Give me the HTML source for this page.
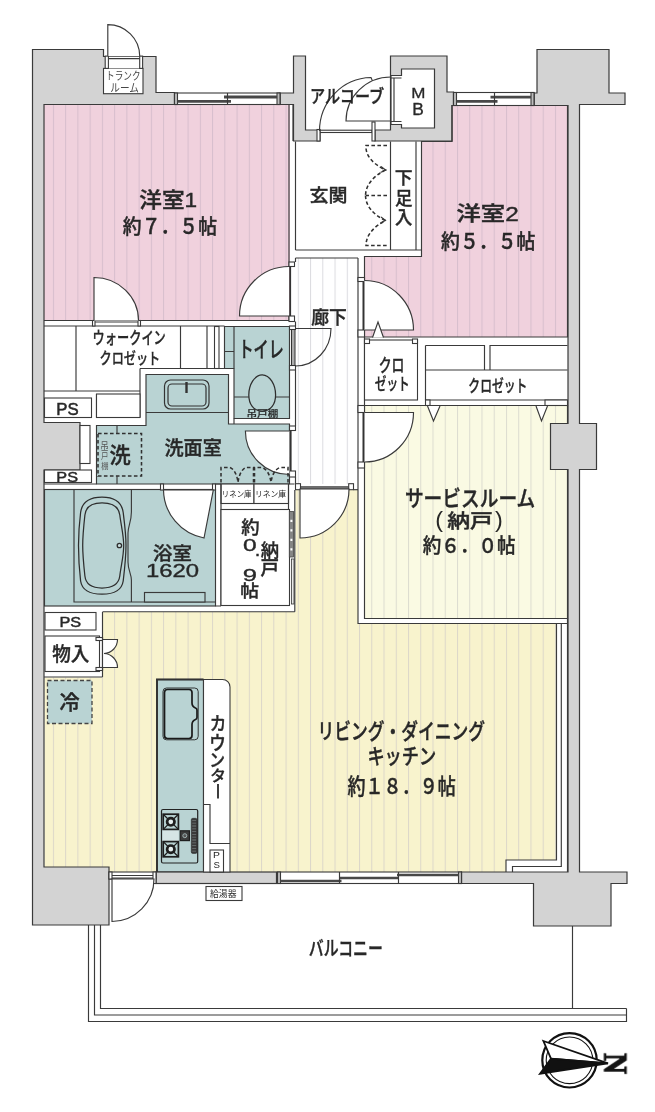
<!DOCTYPE html>
<html lang="ja"><head><meta charset="utf-8"><title>間取り図</title>
<style>
html,body{margin:0;padding:0;background:#fff}
svg{display:block}
text{font-family:"Liberation Sans","Noto Sans CJK JP",sans-serif;fill:#262626;font-weight:500}
.w{fill:#d3d3d3;stroke:#3a3a3a;stroke-width:1.2}
.l{fill:none;stroke:#3a3a3a;stroke-width:1.15}
.wl{fill:#fff;stroke:#3a3a3a;stroke-width:1.1}
.tl{fill:#b9d3d3;stroke:#3a3a3a;stroke-width:1.15}
.d{fill:#fff;stroke:#3a3a3a;stroke-width:1.15}
.ds{fill:none;stroke:#303030;stroke-width:1.55;stroke-dasharray:3.6 2.4}
</style></head>
<body>
<svg width="655" height="1112" viewBox="0 0 655 1112">
<defs>
<pattern id="pk" patternUnits="userSpaceOnUse" x="52.9" y="0" width="12.245" height="20"><rect width="12.245" height="20" fill="#f0d1dd"/><rect width="1" height="20" fill="#d7becd"/></pattern>
<pattern id="pk2" patternUnits="userSpaceOnUse" x="52.9" y="0" width="12.245" height="20"><rect width="12.245" height="20" fill="#f0d1dd"/><rect width="1" height="20" fill="#d7becd"/></pattern>
<pattern id="yl" patternUnits="userSpaceOnUse" x="52.9" y="0" width="12.245" height="20"><rect width="12.245" height="20" fill="#f8f3cd"/><rect width="1" height="20" fill="#dcd7c9"/></pattern>
<pattern id="sv" patternUnits="userSpaceOnUse" x="52.9" y="0" width="12.245" height="20"><rect width="12.245" height="20" fill="#fafae3"/><rect width="1" height="20" fill="#dcdcd0"/></pattern>
<pattern id="co" patternUnits="userSpaceOnUse" x="52.9" y="0" width="12.245" height="20"><rect width="12.245" height="20" fill="#ffffff"/><rect width="1" height="20" fill="#dcdce0"/></pattern>
</defs>
<rect width="655" height="1112" fill="#fff"/>
<!-- FILLS -->
<g id="fills">
<rect x="44" y="104.5" width="246" height="215.5" fill="url(#pk)"/>
<polygon points="452,105.5 567.5,105.5 567.5,337 364.5,337 364.5,257 421.5,257 421.5,141 452,141" fill="url(#pk2)"/>
<rect x="296.5" y="258" width="61" height="226" fill="url(#co)"/>
<polygon points="295.5,489.5 358,489.5 358,623.5 556.5,623.5 556.5,860 506,860 506,872 109,872 109,867 44.5,867 44.5,677.5 102.5,677.5 102.5,612 295.5,612" fill="url(#yl)"/>
<rect x="364.5" y="405.5" width="203" height="213" fill="url(#sv)"/>

<!-- teal rooms -->
<polygon class="tl" points="224.5,326.5 289.5,326.5 289.5,418.5 234,418.5 234,368.5 224.5,368.5"/>
<polygon class="tl" points="146,374.5 228.5,374.5 228.5,424 289.5,424 289.5,484 96.5,484 96.5,425.5 146,425.5"/>
<rect class="tl" x="44.5" y="489.5" width="171" height="116.5"/>
<rect class="tl" x="157" y="679.5" width="46.5" height="192.5"/>
</g>
<!-- GRAYWALLS -->
<g id="walls">
<polygon class="w" points="32.5,49.5 103.5,49.5 103.5,56.5 156,56.5 156,92.5 174.5,92.5 174.5,104.5 44,104.5 44,422.5 80,422.5 80,470 44,470 44,867 109,867 109,925 32.5,925"/>
<polygon class="w" points="280,93 293.5,93 293.5,56 305.5,56 305.5,130 320,130 320,141 293.5,141 293.5,104.5 280,104.5"/>
<path class="w" fill-rule="evenodd" d="M390.5,56H447V92H453.5V105.5H452V141H375V130H390.5Z M401.5,69H434.5V128H401.5V124.5H391V75.5H401.5Z"/>
<polygon class="w" points="537,49.5 609,49.5 609,93 625,93 625,104.5 579.5,104.5 579.5,423.5 596.5,423.5 596.5,469.5 579.5,469.5 579.5,872 627,872 627,883.5 611,883.5 611,926 533.5,926 533.5,883.5 461.5,883.5 461.5,872 568,872 568,469.5 550.5,469.5 550.5,423.5 568,423.5 568,105.5 534,105.5 534,93 537,93"/>
<rect class="w" x="156" y="872" width="120.5" height="11.5"/>
</g>
<!-- PARTITIONS -->
<g id="parts">
<!-- room outlines -->
<path class="l" d="M44,104.5H289V320.5H44"/>
<polygon class="l" points="452,105.5 567.5,105.5 567.5,337 364.5,337 364.5,256.5 421.5,256.5 421.5,141.5 452,141.5"/>
<!-- trunk room -->
<rect class="wl" x="103.500" y="68.400" width="39.500" height="25.300"/>
<rect x="108.400" y="56" width="31.300" height="12.400" fill="#fff"/>
<rect class="wl" x="105.200" y="56.100" width="3.200" height="12.300"/><rect class="wl" x="139.700" y="56.100" width="2.900" height="12.300"/>
<path class="l" d="M108.400,56.100H139.700 M108.400,58.600H139.700"/>
<!-- genkan -->
<path class="l" d="M293,141V104.5 M295.5,141.5V250 M390.5,141.5V250 M416,141.5V250 M295.5,250H421.5 M295.5,258H358 M295.5,258V262 M358,258V484 M364.5,337V405.5"/>
<rect class="wl" x="320" y="130.200" width="52" height="2.300"/>
<rect class="wl" x="317" y="129.5" width="3" height="11.500"/><rect class="wl" x="372" y="122" width="3" height="19"/><path class="l" d="M394,78V121.500 M391,78H401.500 M391,121.500H401.500"/>
<!-- room1 door frame -->
<rect class="wl" x="289" y="262" width="5.5" height="4.5"/><rect class="wl" x="289" y="316" width="5.5" height="5.5"/>
<path d="M290.300,266.5V316" stroke="#333" stroke-width="1.600" fill="none"/><path class="l" d="M295.5,321.5V326"/>
<!-- room2 door frame -->
<rect class="wl" x="358" y="277.5" width="6.5" height="4"/><rect class="wl" x="358" y="330" width="6.5" height="7"/>
<path d="M363.300,281.5V330" stroke="#333" stroke-width="1.600" fill="none"/>
<!-- WIC -->
<path class="l" d="M44,326H224.5 M76,326V391 M180.5,326V368.5 M207,326V368.5 M44,391H140 M180.5,368.5H228.5 M140,368.5H180.5 M140,368.5V417.5 M96.5,394V417.5 M234,418.5V424"/>
<rect class="wl" x="214.5" y="326.5" width="4.5" height="42"/>
<rect class="wl" x="92.5" y="320.5" width="2.5" height="5.5"/><rect class="wl" x="138" y="320.5" width="2.5" height="5.5"/>
<path class="l" d="M95,322H138"/>
<rect class="wl" x="44.5" y="398" width="47" height="19.5"/>
<rect class="wl" x="96.5" y="394" width="43.5" height="23.5"/>
<rect class="wl" x="80" y="425.500" width="10" height="38"/>
<rect class="wl" x="44.5" y="470" width="47" height="12.5"/>
<!-- toilet shelf -->
<path class="l" d="M234,326.500V368.5 M224.5,351.5H234 M234,397H249 M275.500,397H289.500"/>
<!-- toilet door frame -->
<rect class="wl" x="289.5" y="326" width="6" height="3.5"/><rect class="wl" x="289.5" y="365.500" width="6" height="4.5"/>
<rect x="291.500" y="329.500" width="3.5" height="36" fill="#ababab" stroke="#333"/>
<path class="l" d="M295.500,370V426"/>
<!-- washroom door frame -->
<rect class="wl" x="289.5" y="426" width="6" height="4.5"/><rect class="wl" x="289.5" y="471" width="6" height="6"/>
<path d="M290.800,430.500V471" stroke="#333" stroke-width="1.600" fill="none"/><path class="l" d="M295.5,477V484"/>
<!-- wall washroom/bath -->
<path class="l" d="M44,484H96.500 M44,489.500H160.500 M289.500,484H294.500"/>
<rect class="wl" x="160.500" y="484" width="3" height="6"/><rect class="wl" x="212.500" y="484" width="3" height="6"/>
<!-- linen -->
<rect class="wl" x="221" y="484" width="33" height="19.500"/><rect class="wl" x="254" y="484" width="34.500" height="19.500"/>
<path class="l" d="M215.500,484H221 M221,484V606 M215.500,606H221 M288.500,484V509.500 M294.800,490V611.700 M102.500,611.700H294.800"/>
<!-- nando -->
<rect class="wl" x="221" y="509.500" width="68.500" height="96"/>
<rect x="289.300" y="511.500" width="4.200" height="45.500" fill="#858585" stroke="#444" stroke-width=".8"/>
<path d="M291.400,519.800V552" stroke="#fff" stroke-width="2" stroke-dasharray="2.300 7.200" fill="none"/>
<rect x="291.500" y="559" width="2.500" height="45" fill="#e8e8e8" stroke="#333" stroke-width=".8"/>
<!-- LD door frame -->
<rect x="300" y="486" width="49" height="3.500" fill="#6e6e6e"/><rect class="wl" x="295.500" y="483.700" width="5" height="6"/><rect class="wl" x="348.700" y="483.700" width="4.800" height="6"/><path class="l" d="M353.500,489.700H358"/>
<!-- service room walls -->
<path class="l" d="M358,484V623.500H567.500 M556.500,623.500V860H506V872 M561.300,623.500V866.500H512.500V872 M567.500,618.500V872"/>
<path class="l" d="M567.500,423.500V405.500H364.500V618.500H567.500V469.500"/>
<!-- small closet -->
<rect class="wl" x="364.500" y="340" width="53" height="60"/><rect class="wl" x="364.500" y="339" width="5" height="4.500"/><rect class="wl" x="412.500" y="339" width="5" height="4.500"/>
<!-- big closet -->
<path class="l" d="M425.500,345.500V400 M425.500,345.500H484.500V370 M490,370V345.500H567.500 M425.500,370H567.500 M425.500,400H567.500 M364.500,405.500H426"/>
<rect class="wl" x="425.500" y="400" width="4.500" height="5.500"/><rect class="wl" x="545" y="400" width="22.500" height="5.500"/>
<!-- service door frame -->
<rect class="wl" x="358" y="405.500" width="6.500" height="7"/><rect class="wl" x="358" y="462" width="6.500" height="6"/>
<path d="M363.300,412.500V462" stroke="#333" stroke-width="1.600" fill="none"/>
<!-- PS3 / monoire -->
<rect class="wl" x="45" y="612.500" width="51" height="17.500"/>
<rect class="wl" x="45" y="636" width="54.500" height="35.500"/>
<path class="l" d="M102.500,612V677 M44,677H102.500"/>
<rect class="wl" x="96" y="637.500" width="6.500" height="3"/><rect class="wl" x="96" y="667.500" width="6.500" height="3"/>
<!-- kitchen counter -->
<path class="wl" d="M203.500,679.500H222.500A7.500,7.500 0 0 1 230,687V872H203.500Z"/>
<path class="l" d="M203.500,804.500H210V843.500H230"/>
<rect class="wl" x="210" y="850" width="13.500" height="22"/>
<path d="M157,872V679.500H203.500" fill="none" stroke="#333" stroke-width="2"/>
<!-- kyutoki -->
<rect class="wl" x="206" y="886.500" width="36" height="14"/>
<!-- balcony -->
<path class="l" d="M88.500,925V1021.500H626.500V1008.500 M94.500,925V1015H626.500 M100.500,925V1008.500H626.500 M572.500,926V1008.500"/>
<!-- windows -->
<g id="win1"><rect class="wl" x="174.500" y="93" width="105.500" height="11.500"/><rect class="wl" style="fill:#bdbdbd" x="174.500" y="93" width="3" height="11.500"/><rect class="wl" style="fill:#bdbdbd" x="277" y="93" width="3" height="11.500"/>
<path d="M177.500,101.300H231 M224,97H277" stroke="#484848" stroke-width="2.800" fill="none"/><path class="l" d="M227.500,93V104.500"/></g>
<g id="win2"><rect class="wl" x="453.500" y="92.500" width="80.500" height="13"/><rect class="wl" style="fill:#bdbdbd" x="453.500" y="92.500" width="3" height="13"/><rect class="wl" style="fill:#bdbdbd" x="531" y="92.500" width="3" height="13"/>
<path d="M456.500,101.300H497.500 M490.500,97.100H531" stroke="#484848" stroke-width="2.800" fill="none"/><path class="l" d="M494.500,92.500V105.500"/></g>
<g id="win3"><rect class="wl" x="277.500" y="872" width="184" height="11.500"/><rect class="wl" style="fill:#bdbdbd" x="277.500" y="872" width="3" height="11.500"/><rect class="wl" style="fill:#bdbdbd" x="458.500" y="872" width="3" height="11.500"/>
<path d="M280.500,881H341.500 M339,878H399 M397,875H458.500" stroke="#484848" stroke-width="2.400" fill="none"/><path class="l" d="M339.500,872V883.500 M398.500,872V883.500"/></g>
<!-- balcony door frame -->
<rect class="wl" x="109" y="872" width="47" height="7"/><path class="l" d="M112,875.500H153 M112,878H153"/>
<rect class="wl" x="109" y="872" width="3" height="7"/><rect class="wl" x="153" y="872" width="3" height="11.500"/>
</g>
<!-- FIXTURES -->
<g id="fix">
<!-- washbasin -->
<path class="l" d="M146,412.500H228.500"/>
<rect x="164.500" y="380" width="44.500" height="29" rx="6" fill="#b9d3d3" stroke="#333" stroke-width="1.200"/>
<rect x="168" y="384" width="38" height="22" rx="4" fill="#b9d3d3" stroke="#333" stroke-width="1.200"/>
<path d="M186.500,382V393" stroke="#333" stroke-width="2.400" fill="none"/>
<!-- toilet -->
<path d="M262.200,374.900C270,374.900 275.600,385 275.600,395C275.600,404 271,411 262.200,411C253.400,411 248.800,404 248.800,395C248.800,385 254.400,374.900 262.200,374.900Z" fill="#b9d3d3" stroke="#2e2e2e" stroke-width="1.250"/>
<!-- washer -->
<rect class="ds" x="98" y="433.500" width="43.500" height="42.500"/>
<path class="l" d="M117,425.500V433.500 M117,476V484"/>
<!-- bath -->
<path class="l" d="M74,489.500V602H215.500"/>
<path class="l" d="M131.400,489.500V512C131.400,522 128,526 128,533V562C128,570 131.400,574 131.400,580V602"/>
<path d="M102,497.100C112,497.100 121.500,500 123.200,512.500C124.500,523 126,534 126,545.500C126,557 124.500,570 123.200,581C121.500,592 112,594.200 102,594.200C92,594.200 82.300,592 80.600,581C79.300,570 78.500,557 78.500,545.500C78.500,534 79.300,523 80.600,512.500C82.300,500 92,497.100 102,497.100Z" fill="#b9d3d3" stroke="#2e2e2e" stroke-width="1.250"/>
<path d="M102,502.900C110,502.900 118.500,505 119.800,515C121,525 123.700,535 123.700,545.500C123.700,556 121,566 119.800,576C118.500,586 110,588 102,588C94,588 86,586 84.900,576C83.800,566 82.700,556 82.700,545.500C82.700,535 83.800,525 84.900,515C86,505 94,502.900 102,502.900Z" fill="#b9d3d3" stroke="#2e2e2e" stroke-width="1.250"/>
<circle cx="119.400" cy="545.500" r="2.200" fill="#c9dede" stroke="#2e2e2e" stroke-width="1.300"/>
<rect class="tl" x="144.500" y="592.500" width="60.500" height="9.500"/>
<!-- fridge -->
<rect x="47.500" y="680.500" width="44.500" height="43" fill="#b9d3d3" stroke="#444" stroke-width="1.300" stroke-dasharray="4 2.500"/>
<!-- kitchen sink -->
<rect x="163" y="688" width="35.200" height="51.800" rx="3.500" fill="#b9d3d3" stroke="#222" stroke-width=".9"/>
<path d="M167.500,689.500H189Q192,689.500 192,692.500V703Q192,706.500 195.500,708Q197,708.500 197,710V717.500Q197,719 195.500,719.500Q192,721 192,724.500V735.500Q192,738.500 189,738.500H167.500Q164.500,738.500 164.500,735.500V692.500Q164.500,689.500 167.500,689.500Z" fill="#b9d3d3" stroke="#1a1a1a" stroke-width="1.700"/>
<!-- stove -->
<rect x="161.500" y="809.500" width="36.200" height="53.500" rx="1.500" fill="#b9d3d3" stroke="#222" stroke-width="1.200"/>
<rect x="162.600" y="829.800" width="16.100" height="11.400" fill="#d5e4e4"/>
<g fill="none" stroke="#1e1e1e">
<rect x="163.200" y="814.200" width="15.200" height="15.200" stroke-width="1.700"/>
<path d="M163.200,814.200L178.400,829.400 M178.400,814.200L163.200,829.400" stroke-width="1.300"/>
<circle cx="170.800" cy="821.800" r="3.700" stroke-width="2.700" fill="#e4eeee"/>
<rect x="163.200" y="841.600" width="15.200" height="15.200" stroke-width="1.700"/>
<path d="M163.200,841.600L178.400,856.800 M178.400,841.600L163.200,856.800" stroke-width="1.300"/>
<circle cx="170.800" cy="849.200" r="3.700" stroke-width="2.700" fill="#e4eeee"/>
<rect x="180.200" y="830.800" width="9.200" height="9.800" stroke-width="1.200" fill="#3c3c3c"/>
<circle cx="184.800" cy="835.700" r="2" stroke="#9db0b0" stroke-width="1" fill="#555"/>
</g>
<rect x="191.300" y="818.300" width="5.700" height="35.100" rx="1.500" fill="#3a3a3a" stroke="#2a2a2a" stroke-width=".6"/>
<path d="M194.200,820V852.500" stroke="#707878" stroke-width="4" stroke-dasharray=".8 2" fill="none"/>
</g>
<!-- DOORS -->
<g id="doors">
<!-- trunk door -->
<path class="d" d="M107.800,56.100V24.600A31.900,31.500 0 0 1 139.700,56.100"/>
<!-- entry door arc + MB door -->
<path class="l" d="M319.500,131A52.500,53.500 0 0 1 371,77.500l1.500,3.500"/>
<path class="l" d="M391,121H346A45,44 0 0 1 391,77"/>
<!-- room1 door -->
<path class="d" d="M289,316H239.500A49.500,49.500 0 0 1 289,266.500"/>
<!-- room2 door -->
<path class="d" d="M364.500,330H413.500A49,49.500 0 0 0 364.500,280.500"/>
<!-- WIC door -->
<path class="d" d="M94,320.500V277.500A44.500,43 0 0 1 138.500,320.500"/>
<!-- toilet door -->
<path class="l" d="M295.500,328.500H331A35.500,37.500 0 0 1 295.500,366"/>
<!-- washroom door -->
<path class="d" d="M289.400,431H245.400A44,43.500 0 0 0 289.400,474.500"/>
<!-- service door -->
<path class="d" d="M364.500,412.500H413.500A49,49.500 0 0 1 364.500,462" />
<!-- LD door -->
<path class="d" d="M300,489V538A49,49 0 0 0 349,489Z"/>
<!-- bath door -->
<path class="d" d="M163.500,490A49.500,49.500 0 0 0 204,538L213.300,490Z"/>
<!-- balcony door -->
<path class="d" d="M112,879V921.500A42.500,42.500 0 0 0 154,879Z"/>
<!-- closet triangles -->
<path class="d" d="M372.500,337.500L378,322L383.500,337.500"/>
<path class="d" d="M427.500,406L433.500,421L440,406"/>
<path class="d" d="M536,406L541.500,421L547.500,406"/>
<!-- monoire folding -->
<path class="d" d="M102.500,639.500H117.500A14,14 0 0 1 104,653.500A14,14 0 0 1 117.500,667.500H102.500"/>
<path class="l" d="M102.500,637.500V670.500"/>
<!-- shoe closet dashed bifold -->
<path class="ds" d="M387,145.500H366 Q365,160 385.500,170 Q366,180 365.500,195.500 M387,195.500H366 M365.500,195.500Q366,211 385.500,220.500 Q366,231 366,245.500H387"/>
<path class="l" d="M381,166.500L385.500,170L380.500,172.500 M381,217L385.500,220.500L380.500,223"/>
<!-- linen dashed -->
<path class="ds" d="M221,482.500V467.500H230Q236,470 238,482 M253.500,482.500V467.500H246Q240,470 238,482 M254.500,482.500V467.500H262Q269,470 271,482 M288,482.500V467.500H280Q273,470 271,482" stroke-dasharray="3 2"/>
<!-- compass -->
<circle cx="569.500" cy="1060.300" r="27.200" fill="#fff" stroke="#111" stroke-width="2.200"/>
<circle cx="569.500" cy="1060.300" r="23.300" fill="none" stroke="#111" stroke-width="1.100"/>
<path d="M543.400,1041L608,1063.300L551,1058.600Z" fill="#fff" stroke="#111" stroke-width="1.800" stroke-linejoin="miter"/>
<path d="M551,1058.600L608,1063.300L540,1073.700Z" fill="#111" stroke="#111" stroke-width="1.800"/>
</g>
<!-- TEXT -->
<g id="txt" opacity="0.99">
<text transform="translate(139.29,207.01) scale(2.263,2.096)" font-size="10" style="font-weight:500;stroke:#262626;stroke-width:.2px" xml:space="preserve">洋室1</text>
<text transform="translate(122.82,234.32) scale(1.885,2.084)" font-size="10" style="font-weight:500;stroke:#262626;stroke-width:.2px" xml:space="preserve">約７．５帖</text>
<text transform="translate(456.53,220.92) scale(2.433,2.085)" font-size="10" style="font-weight:500;stroke:#262626;stroke-width:.2px" xml:space="preserve">洋室2</text>
<text transform="translate(441.02,249.32) scale(1.891,2.084)" font-size="10" style="font-weight:500;stroke:#262626;stroke-width:.2px" xml:space="preserve">約５．５帖</text>
<text transform="translate(309.56,201.56) scale(1.898,1.819)" font-size="10" style="font-weight:500;stroke:#262626;stroke-width:.2px" xml:space="preserve">玄関</text>
<text transform="translate(394.81,184.35) scale(1.789,1.724)" font-size="10" style="font-weight:500;stroke:#262626;stroke-width:.2px" xml:space="preserve">下</text>
<text transform="translate(395.00,204.68) scale(1.750,1.798)" font-size="10" style="font-weight:500;stroke:#262626;stroke-width:.2px" xml:space="preserve">足</text>
<text transform="translate(395.01,223.90) scale(1.731,1.874)" font-size="10" style="font-weight:500;stroke:#262626;stroke-width:.2px" xml:space="preserve">入</text>
<text transform="translate(309.98,102.97) scale(1.513,1.859)" font-size="10" style="font-weight:500;stroke:#262626;stroke-width:.2px" xml:space="preserve">アルコーブ</text>
<text transform="translate(411.24,98.10) scale(1.701,1.551)" font-size="10" style="font-weight:400;stroke:#262626;stroke-width:.2px" xml:space="preserve">M</text>
<text transform="translate(412.31,115.20) scale(1.736,1.638)" font-size="10" style="font-weight:400;stroke:#262626;stroke-width:.2px" xml:space="preserve">B</text>
<text transform="translate(106.06,79.64) scale(0.862,1.116)" font-size="10" style="font-weight:400;fill:#444" xml:space="preserve">トランク</text>
<text transform="translate(110.32,92.16) scale(0.965,1.137)" font-size="10" style="font-weight:400;fill:#444" xml:space="preserve">ルーム</text>
<text transform="translate(311.27,323.61) scale(1.781,1.872)" font-size="10" style="font-weight:500;stroke:#262626;stroke-width:.2px" xml:space="preserve">廊下</text>
<text transform="translate(92.61,344.12) scale(1.221,1.722)" font-size="10" style="font-weight:500;stroke:#262626;stroke-width:.2px" xml:space="preserve">ウォークイン</text>
<text transform="translate(99.51,363.56) scale(1.216,1.596)" font-size="10" style="font-weight:500;stroke:#262626;stroke-width:.2px" xml:space="preserve">クロゼット</text>
<text transform="translate(56.26,414.53) scale(1.678,1.732)" font-size="10" style="font-weight:400;stroke:#262626;stroke-width:.3px" xml:space="preserve">PS</text>
<text transform="translate(238.47,356.72) scale(1.510,2.205)" font-size="10" style="font-weight:500;stroke:#262626;stroke-width:.2px" xml:space="preserve">トイレ</text>
<text transform="translate(246.54,416.69) scale(1.057,0.904)" font-size="10" style="font-weight:500;stroke:#262626;stroke-width:.2px" xml:space="preserve">吊戸棚</text>
<text transform="translate(164.44,455.36) scale(1.911,1.936)" font-size="10" style="font-weight:500;stroke:#262626;stroke-width:.2px" xml:space="preserve">洗面室</text>
<text transform="translate(109.45,463.49) scale(2.117,2.140)" font-size="10" style="font-weight:500;stroke:#262626;stroke-width:.2px" xml:space="preserve">洗</text>
<text transform="translate(100.37,449.14) scale(0.857,0.955)" font-size="10" style="font-weight:400;fill:#555" xml:space="preserve">吊</text>
<text transform="translate(101.11,459.21) scale(0.733,0.988)" font-size="10" style="font-weight:400;fill:#555" xml:space="preserve">戸</text>
<text transform="translate(101.18,468.73) scale(0.733,0.851)" font-size="10" style="font-weight:400;fill:#555" xml:space="preserve">棚</text>
<text transform="translate(56.30,482.35) scale(1.628,1.479)" font-size="10" style="font-weight:400;stroke:#262626;stroke-width:.3px" xml:space="preserve">PS</text>
<text transform="translate(152.92,560.13) scale(1.948,1.851)" font-size="10" style="font-weight:500;stroke:#262626;stroke-width:.2px" xml:space="preserve">浴室</text>
<text transform="translate(145.99,577.02) scale(2.390,1.761)" font-size="10" style="font-weight:500;stroke:#262626;stroke-width:.2px" xml:space="preserve">1620</text>
<text transform="translate(221.86,497.09) scale(0.743,0.787)" font-size="10" style="font-weight:400" xml:space="preserve">リネン庫</text>
<text transform="translate(254.88,497.09) scale(0.781,0.787)" font-size="10" style="font-weight:400" xml:space="preserve">リネン庫</text>
<text transform="translate(241.13,533.66) scale(1.837,1.842)" font-size="10" style="font-weight:500;stroke:#262626;stroke-width:.2px" xml:space="preserve">約</text>
<text transform="translate(243.02,550.84) scale(2.458,1.648)" font-size="10" style="font-weight:500;stroke:#262626;stroke-width:.2px" xml:space="preserve">0</text>
<text transform="translate(254.80,555.50) scale(2.000,1.818)" font-size="10" style="font-weight:500;stroke:#262626;stroke-width:.2px" xml:space="preserve">.</text>
<text transform="translate(242.72,580.73) scale(2.565,1.718)" font-size="10" style="font-weight:500;stroke:#262626;stroke-width:.2px" xml:space="preserve">9</text>
<text transform="translate(240.37,597.44) scale(1.878,1.734)" font-size="10" style="font-weight:500;stroke:#262626;stroke-width:.2px" xml:space="preserve">帖</text>
<text transform="translate(260.63,557.19) scale(1.837,1.787)" font-size="10" style="font-weight:500;stroke:#262626;stroke-width:.2px" xml:space="preserve">納</text>
<text transform="translate(260.44,575.26) scale(1.857,1.932)" font-size="10" style="font-weight:500;stroke:#262626;stroke-width:.2px" xml:space="preserve">戸</text>
<text transform="translate(404.88,505.59) scale(1.873,2.178)" font-size="10" style="font-weight:500;stroke:#262626;stroke-width:.2px" xml:space="preserve">サービスルーム</text>
<text transform="translate(435.19,526.65) scale(2.346,2.213)" font-size="10" style="font-weight:400" xml:space="preserve">(</text>
<text transform="translate(447.14,528.26) scale(2.292,1.936)" font-size="10" style="font-weight:500;stroke:#262626;stroke-width:.2px" xml:space="preserve">納戸</text>
<text transform="translate(495.07,526.65) scale(2.346,2.213)" font-size="10" style="font-weight:400" xml:space="preserve">)</text>
<text transform="translate(422.83,553.15) scale(1.854,2.053)" font-size="10" style="font-weight:500;stroke:#262626;stroke-width:.2px" xml:space="preserve">約６．０帖</text>
<text transform="translate(59.40,626.75) scale(1.628,1.535)" font-size="10" style="font-weight:400;stroke:#262626;stroke-width:.3px" xml:space="preserve">PS</text>
<text transform="translate(52.14,660.73) scale(1.861,1.968)" font-size="10" style="font-weight:500;stroke:#262626;stroke-width:.2px" xml:space="preserve">物入</text>
<text transform="translate(59.39,709.66) scale(2.021,2.043)" font-size="10" style="font-weight:500;stroke:#262626;stroke-width:.2px" xml:space="preserve">冷</text>
<text transform="translate(209.74,729.94) scale(1.658,1.867)" font-size="10" style="font-weight:500;stroke:#262626;stroke-width:.2px" xml:space="preserve">カ</text>
<text transform="translate(209.24,749.61) scale(1.658,1.988)" font-size="10" style="font-weight:500;stroke:#262626;stroke-width:.2px" xml:space="preserve">ウ</text>
<text transform="translate(209.35,767.26) scale(1.575,1.792)" font-size="10" style="font-weight:500;stroke:#262626;stroke-width:.2px" xml:space="preserve">ン</text>
<text transform="translate(210.14,781.11) scale(1.575,1.477)" font-size="10" style="font-weight:500;stroke:#262626;stroke-width:.2px" xml:space="preserve">タ</text>
<text transform="translate(317.48,739.06) scale(1.677,2.170)" font-size="10" style="font-weight:500;stroke:#262626;stroke-width:.2px" xml:space="preserve">リビング・ダイニング</text>
<text transform="translate(367.38,764.36) scale(1.721,2.157)" font-size="10" style="font-weight:500;stroke:#262626;stroke-width:.2px" xml:space="preserve">キッチン</text>
<text transform="translate(347.54,793.56) scale(1.805,2.137)" font-size="10" style="font-weight:500;stroke:#262626;stroke-width:.2px" xml:space="preserve">約１８．９帖</text>
<text transform="translate(213.07,858.30) scale(1.038,0.884)" font-size="10" style="font-weight:400" xml:space="preserve">P</text>
<text transform="translate(213.42,868.01) scale(0.965,0.944)" font-size="10" style="font-weight:400" xml:space="preserve">S</text>
<text transform="translate(210.04,897.18) scale(0.881,0.914)" font-size="10" style="font-weight:400" xml:space="preserve">給湯器</text>
<text transform="translate(308.76,955.99) scale(1.487,2.023)" font-size="10" style="font-weight:500;stroke:#262626;stroke-width:.2px" xml:space="preserve">バルコニー</text>
<text transform="translate(378.64,371.62) scale(1.287,1.795)" font-size="10" style="font-weight:500;stroke:#262626;stroke-width:.2px" xml:space="preserve">クロ</text>
<text transform="translate(374.83,390.49) scale(1.164,1.681)" font-size="10" style="font-weight:500;stroke:#262626;stroke-width:.2px" xml:space="preserve">ゼット</text>
<text transform="translate(468.34,392.20) scale(1.181,1.670)" font-size="10" style="font-weight:500;stroke:#262626;stroke-width:.2px" xml:space="preserve">クロゼット</text>
<path d="M218,784V798.500" stroke="#262626" stroke-width="1.800" fill="none"/>
<text x="0" y="0" font-size="32" text-anchor="middle" transform="translate(604.200,1063.600) rotate(90) scale(0.9,1.07)" style="font-family:'Liberation Serif',serif;fill:#111;font-weight:bold;stroke:#111;stroke-width:1.1px">N</text>
</g>
</svg>
</body></html>
